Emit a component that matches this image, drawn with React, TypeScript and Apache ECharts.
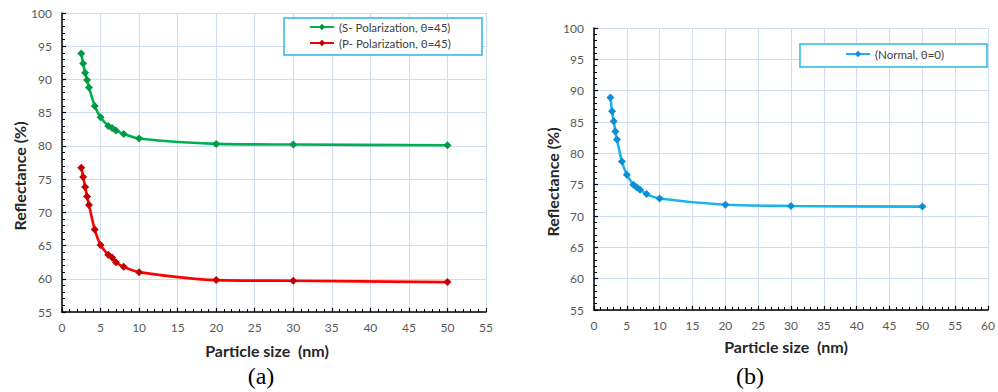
import React, { useEffect, useRef } from "react";
import * as echarts from "echarts";

const particleSizes = [2.5, 2.75, 3, 3.25, 3.5, 4.25, 5, 6, 6.5, 7, 8, 10, 20, 30, 50];
const sPolarization = [93.9, 92.4, 91.0, 89.9, 88.8, 86.0, 84.3, 83.0, 82.7, 82.3, 81.8, 81.1, 80.3, 80.2, 80.1];
const pPolarization = [76.7, 75.3, 73.8, 72.4, 71.1, 67.4, 65.1, 63.6, 63.2, 62.5, 61.8, 61.0, 59.8, 59.7, 59.5];
const normalIncidence = [88.9, 86.7, 85.1, 83.5, 82.2, 78.7, 76.6, 75.0, 74.6, 74.2, 73.5, 72.8, 71.8, 71.6, 71.5];

const seriesNames = ["(S- Polarization, θ=45)", "(P- Polarization, θ=45)", "(Normal, θ=0)"];
const xTitle = "Particle size  (nm)";
const yTitle = "Reflectance (%)";
const captions = ["(a)", "(b)"];

const FONT = "Lato, 'Open Sans', sans-serif";

function pairs(xs: number[], ys: number[]) {
  return xs.map((x, i) => [x, ys[i]]);
}

export default function App() {
  const ref = useRef<HTMLDivElement>(null);
  useEffect(() => {
    document.body.style.margin = "0";
    if (!ref.current) return;
    const chart = echarts.init(ref.current, null, { renderer: "svg" });

    const xAxisBase = (max: number, gridIndex: number) => ({
      type: "value",
      gridIndex,
      min: 0,
      max,
      interval: 5,
      axisLine: { show: true, onZero: false, lineStyle: { color: "#000", width: 1.5 } },
      axisTick: { show: true, inside: true, length: 4, lineStyle: { color: "#000", width: 1.2 } },
      minorTick: { show: true, splitNumber: 5, length: 3, lineStyle: { color: "#000", width: 1 } },
      axisLabel: { color: "#595959", fontSize: 12, fontFamily: FONT, margin: 9 },
      splitLine: { show: true, lineStyle: { color: "#cfdbf0", width: 1 } },
    });
    const yAxisBase = (gridIndex: number) => ({
      type: "value",
      gridIndex,
      min: 55,
      max: 100,
      interval: 5,
      axisLine: { show: true, onZero: false, lineStyle: { color: "#000", width: 1.5 } },
      axisTick: { show: true, inside: true, length: 4, lineStyle: { color: "#000", width: 1.2 } },
      minorTick: { show: true, splitNumber: 5, length: 3, lineStyle: { color: "#000", width: 1 } },
      axisLabel: { color: "#595959", fontSize: 12, fontFamily: FONT, margin: 10 },
      splitLine: { show: true, lineStyle: { color: "#cfdbf0", width: 1 } },
    });

    const lineSeries = (name: string, data: number[][], lineColor: string, markColor: string, idx: number) => ({
      type: "line",
      name,
      xAxisIndex: idx,
      yAxisIndex: idx,
      data,
      smooth: 0.3,
      symbol: "diamond",
      symbolSize: 8,
      lineStyle: { color: lineColor, width: 2.6 },
      itemStyle: { color: markColor },
    });

    const boldText = (text: string, x: number, y: number, rotation = 0) => ({
      type: "text",
      x,
      y,
      rotation,
      style: {
        text,
        fill: "#262626",
        font: `bold 16px ${FONT}`,
        textAlign: "center",
        textVerticalAlign: "middle",
      },
    });

    const caption = (text: string, x: number) => ({
      type: "text",
      x,
      y: 376,
      style: {
        text,
        fill: "#000",
        font: "24px 'Liberation Serif', 'DejaVu Serif', serif",
        textAlign: "center",
        textVerticalAlign: "middle",
      },
    });

    const legendBox = (x: number, y: number, w: number, h: number) => ({
      type: "rect",
      z: 3,
      shape: { x, y, width: w, height: h },
      style: { fill: "#fff", stroke: "#2ab7ea", lineWidth: 1.5 },
    });

    const legendCommon = {
      padding: 0,
      itemWidth: 24,
      itemHeight: 8,
      align: "left",
      z: 5,
      textStyle: { fontSize: 11.5, color: "#404040", fontFamily: FONT },
    };

    chart.setOption({
      animation: false,
      backgroundColor: "#fff",
      grid: [
        { left: 62, top: 13, width: 424, height: 299, containLabel: false },
        { left: 594, top: 28, width: 399, height: 282, containLabel: false },
      ],
      xAxis: [xAxisBase(55, 0), xAxisBase(60, 1)],
      yAxis: [yAxisBase(0), yAxisBase(1)],
      legend: [
        {
          ...legendCommon,
          data: [seriesNames[0], seriesNames[1]],
          orient: "vertical",
          left: 309,
          top: 21,
          itemGap: 4,
        },
        {
          ...legendCommon,
          data: [seriesNames[2]],
          orient: "horizontal",
          left: 845,
          top: 48,
        },
      ],
      series: [
        lineSeries(seriesNames[0], pairs(particleSizes, sPolarization), "#00b050", "#009a44", 0),
        lineSeries(seriesNames[1], pairs(particleSizes, pPolarization), "#ff0000", "#c00000", 0),
        lineSeries(seriesNames[2], pairs(particleSizes, normalIncidence), "#19b4ee", "#0a8ed6", 1),
      ],
      graphic: [
        legendBox(284, 18, 198, 37),
        legendBox(800, 44, 187, 23),
        boldText(xTitle, 267, 350),
        boldText(xTitle, 786, 346),
        boldText(yTitle, 19, 176, Math.PI / 2),
        boldText(yTitle, 552, 182, Math.PI / 2),
        caption(captions[0], 261),
        caption(captions[1], 750),
      ],
    });
    return () => chart.dispose();
  }, []);
  return <div ref={ref} style={{ width: 998, height: 392 }} />;
}
